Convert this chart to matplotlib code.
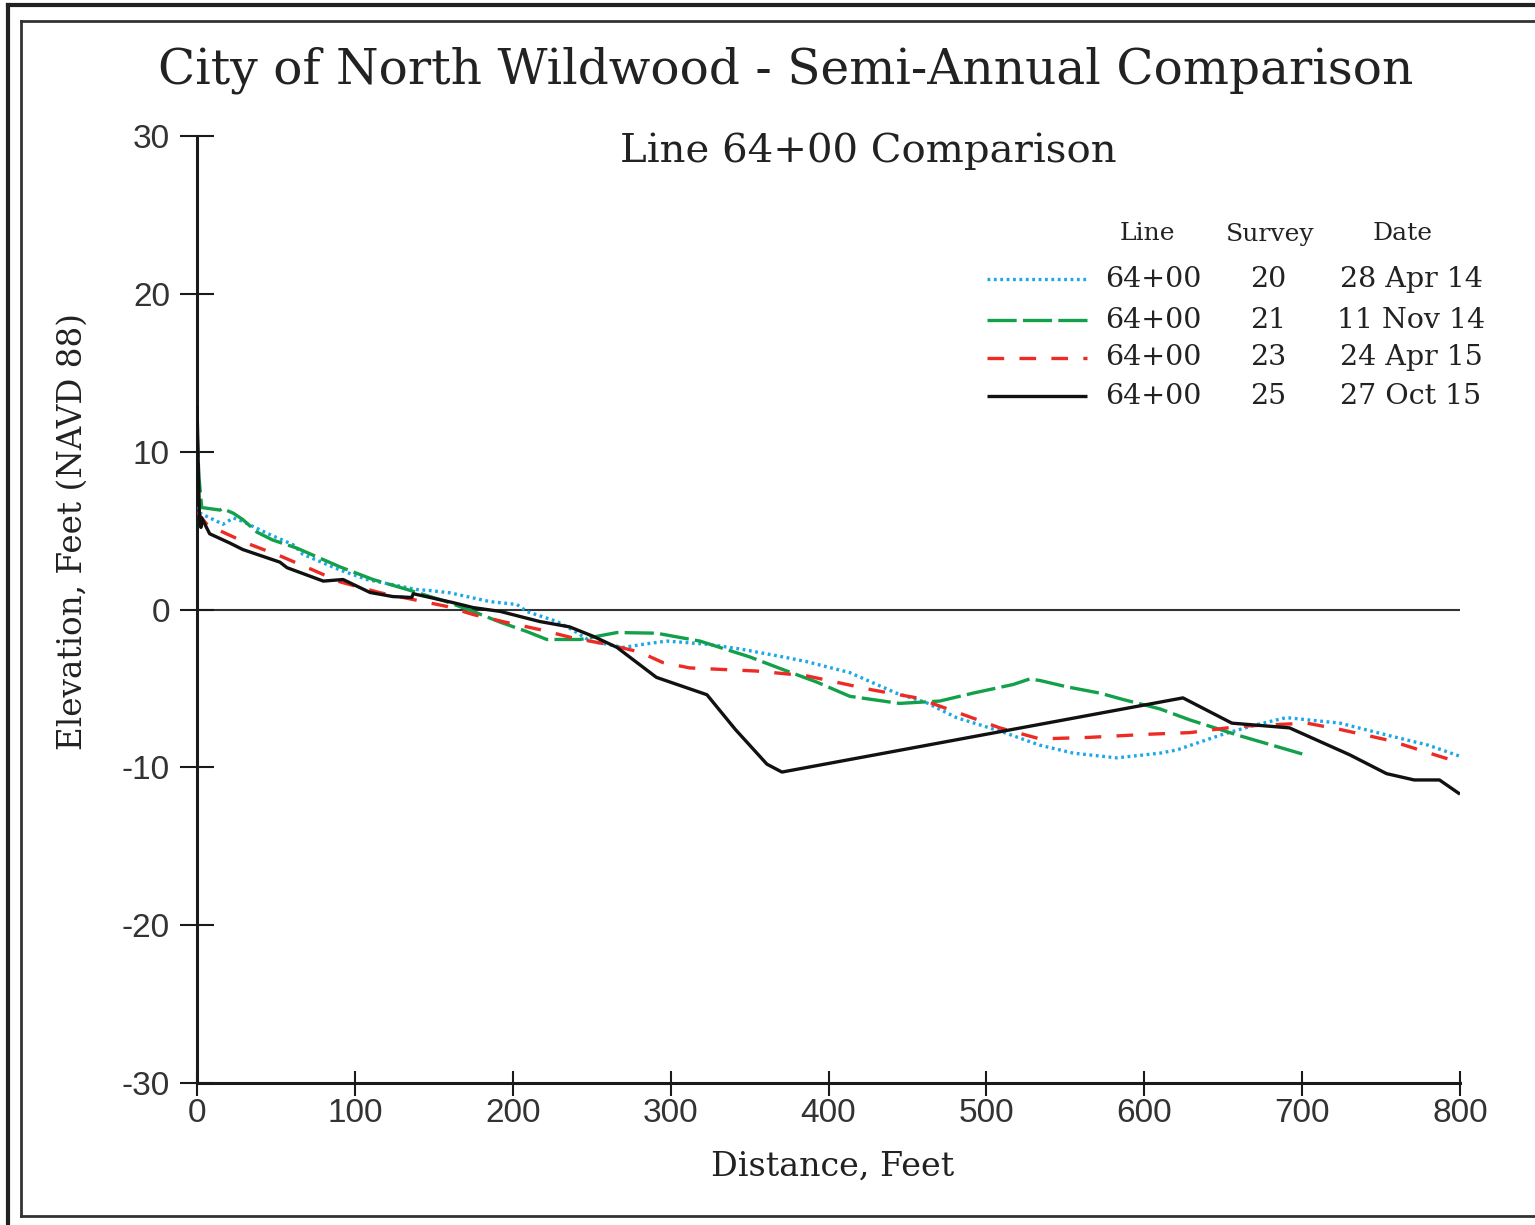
import matplotlib
matplotlib.use("Agg")
import matplotlib.pyplot as plt
from matplotlib.lines import Line2D

# ---------------- data ----------------
x_s20 = [0, 2, 16.5, 23, 28.5, 45, 61, 67, 90.6, 107.6, 139, 147.5, 160, 185.6, 202.6, 209,
         228, 238, 249, 259.6, 270, 283, 297.6, 323, 344, 371, 386, 413.5, 443, 462, 481,
         508.5, 534, 555, 582.6, 610, 620.6, 650, 671, 690, 724, 755.5, 780, 800]
y_s20 = [6.5, 6.1, 5.4, 5.8, 5.6, 4.8, 4.1, 3.5, 2.5, 1.9, 1.27, 1.2, 1.06, 0.5, 0.32, -0.13,
         -0.76, -1.3, -2.0, -2.2, -2.4, -2.2, -2.0, -2.2, -2.5, -3.0, -3.3, -4.0, -5.3, -5.9, -6.85,
         -7.7, -8.6, -9.1, -9.4, -9.1, -8.9, -7.9, -7.3, -6.85, -7.2, -8.0, -8.6, -9.3]

x_s21 = [0, 1.2, 3, 14.6, 16, 23, 29, 38, 48, 63, 90.6, 111.5, 133, 158, 175, 192, 209, 221.6,
         242.6, 266, 291, 318.5, 350, 371, 392.6, 413.5, 445, 470.5, 491.5, 517, 527.5, 534, 551,
         572, 586.5, 610, 629, 660.5, 701.7]
y_s21 = [11.5, 8.4, 6.46, 6.3, 6.4, 6.1, 5.7, 4.9, 4.4, 3.9, 2.7, 1.9, 1.27, 0.5, -0.13, -0.8, -1.4, -1.9,
         -1.9, -1.46, -1.5, -2.0, -3.0, -3.8, -4.6, -5.5, -5.95, -5.8, -5.3, -4.75, -4.4, -4.5, -4.9,
         -5.3, -5.7, -6.3, -7.0, -8.0, -9.2]

x_s23 = [0, 3, 7, 10, 31.6, 52.5, 73.5, 90.6, 116, 137, 158, 175, 196, 217, 238, 259.6, 280.6,
         295, 312, 333, 354.6, 386, 428, 456, 481, 508.5, 534, 565.5, 603.5, 629, 660.5, 703,
         724, 755.5, 787, 800]
y_s23 = [6.2, 5.8, 5.3, 5.2, 4.2, 3.4, 2.5, 1.75, 1.06, 0.63, 0.2, -0.32, -0.82, -1.27, -1.8, -2.2, -2.7,
         -3.36, -3.7, -3.8, -3.9, -4.2, -5.1, -5.6, -6.5, -7.5, -8.2, -8.1, -7.9, -7.8, -7.4, -7.2,
         -7.6, -8.3, -9.3, -9.7]

x_s25 = [0, 1.5, 2.5, 3, 8, 21, 29, 52.5, 57, 80, 92.5, 109.6, 124, 136, 137, 162, 175, 192,
         217, 236, 251, 266, 291, 323, 341, 361, 370.5, 624.5, 655.5, 692, 730, 753.5, 771, 787, 800]
y_s25 = [12.9, 6.0, 5.2, 5.8, 4.8, 4.2, 3.8, 3.0, 2.65, 1.8, 1.9, 1.08, 0.82, 0.76, 1.0, 0.44, 0.12, -0.12,
         -0.76, -1.1, -1.7, -2.4, -4.3, -5.4, -7.6, -9.8, -10.3, -5.6, -7.2, -7.5, -9.2, -10.4, -10.8, -10.8, -11.7]

line_names = ["64+00", "64+00", "64+00", "64+00"]
survey_nums = ["20", "21", "23", "25"]
survey_dates = ["28 Apr 14", "11 Nov 14", "24 Apr 15", "27 Oct 15"]

x_ticks = [0, 100, 200, 300, 400, 500, 600, 700, 800]
y_ticks = [-30, -20, -10, 0, 10, 20, 30]

# ---------------- styling ----------------
plt.rcParams['lines.scale_dashes'] = False
SERIF = ['DejaVu Serif']
SANS = ['Liberation Sans', 'DejaVu Sans']

W, H = 1535, 1225
fig = plt.figure(figsize=(W / 100, H / 100), dpi=100)
fig.patch.set_facecolor('white')

def fx(px):
    return px / W

def fy(py):
    return 1 - py / H

ax = fig.add_axes([fx(197), fy(1083), fx(1460) - fx(197), fy(136) - fy(1083)])
ax.set_xlim(0, 800)
ax.set_ylim(-30, 30)
ax.set_facecolor('white')

styles = [
    dict(color='#1aa8e8', lw=2.4, dashes=(2.0, 2.6)),
    dict(color='#12a04a', lw=2.4, dashes=(21, 4.5)),
    dict(color='#ee2a24', lw=2.4, dashes=(12, 11)),
    dict(color='#111111', lw=2.4, linestyle='-'),
]
series = [(x_s20, y_s20), (x_s21, y_s21), (x_s23, y_s23), (x_s25, y_s25)]

ax.axhline(0, xmin=0, xmax=1, color='#333333', lw=1.5, zorder=1)
for (xs, ys), st in zip(series, styles):
    ax.plot(xs, ys, solid_capstyle='butt', dash_capstyle='butt', zorder=3, **st)

for s in ['top', 'right']:
    ax.spines[s].set_visible(False)
for s in ['left', 'bottom']:
    ax.spines[s].set_linewidth(2.2)
    ax.spines[s].set_color('#1a1a1a')

ax.set_xticks(x_ticks)
ax.set_yticks(y_ticks)
ax.set_xticklabels([str(v) for v in x_ticks])
ax.set_yticklabels([str(v) for v in y_ticks])
ax.tick_params(axis='y', direction='inout', length=25, width=1.5, color='#1a1a1a', pad=7)
ax.tick_params(axis='x', direction='inout', length=18, width=1.5, color='#1a1a1a', pad=2)
for lab in ax.get_xticklabels() + ax.get_yticklabels():
    lab.set_fontfamily(SANS)
    lab.set_fontsize(24)
    lab.set_color('#333333')

fig.text(fx(833), fy(1167), "Distance, Feet", fontfamily=SERIF, fontsize=24,
         color='#222222', ha='center', va='center')
fig.text(fx(73), fy(532), "Elevation, Feet (NAVD 88)", fontfamily=SERIF, fontsize=23.5,
         color='#222222', ha='center', va='center', rotation=90)

# titles
fig.text(fx(786), fy(70), "City of North Wildwood - Semi-Annual Comparison",
         fontfamily=SERIF, fontsize=35, color='#222222', ha='center', va='center')
fig.text(fx(868), fy(151), "Line 64+00 Comparison",
         fontfamily=SERIF, fontsize=29, color='#222222', ha='center', va='center')

# custom legend
fig.text(fx(1147), fy(234), "Line", fontfamily=SERIF, fontsize=18, color='#222222', ha='center', va='center')
fig.text(fx(1270), fy(234), "Survey", fontfamily=SERIF, fontsize=18, color='#222222', ha='center', va='center')
fig.text(fx(1403), fy(234), "Date", fontfamily=SERIF, fontsize=18, color='#222222', ha='center', va='center')
row_y = [279, 320, 358, 396]
for i, st in enumerate(styles):
    yy = fy(row_y[i])
    ln = Line2D([fx(987), fx(1087)], [yy, yy], transform=fig.transFigure,
                solid_capstyle='butt', dash_capstyle='butt', **st)
    fig.add_artist(ln)
    fig.text(fx(1153), yy, line_names[i], fontfamily=SERIF, fontsize=20.5, color='#222222', ha='center', va='center')
    fig.text(fx(1268), yy, survey_nums[i], fontfamily=SERIF, fontsize=20.5, color='#222222', ha='center', va='center')
    fig.text(fx(1411), yy, survey_dates[i], fontfamily=SERIF, fontsize=20.5, color='#222222', ha='center', va='center')

# double border
fig.add_artist(Line2D([fx(8), fx(8)], [fy(5), fy(1225)], transform=fig.transFigure, color='#222222', lw=3))
fig.add_artist(Line2D([fx(8), fx(1535)], [fy(5), fy(5)], transform=fig.transFigure, color='#222222', lw=3))
fig.add_artist(Line2D([fx(21), fx(21)], [fy(21), fy(1216)], transform=fig.transFigure, color='#333333', lw=2))
fig.add_artist(Line2D([fx(21), fx(1535)], [fy(21), fy(21)], transform=fig.transFigure, color='#333333', lw=2))
fig.add_artist(Line2D([fx(21), fx(1535)], [fy(1216), fy(1216)], transform=fig.transFigure, color='#333333', lw=2))

fig.savefig("out.png", dpi=100, facecolor='white')
